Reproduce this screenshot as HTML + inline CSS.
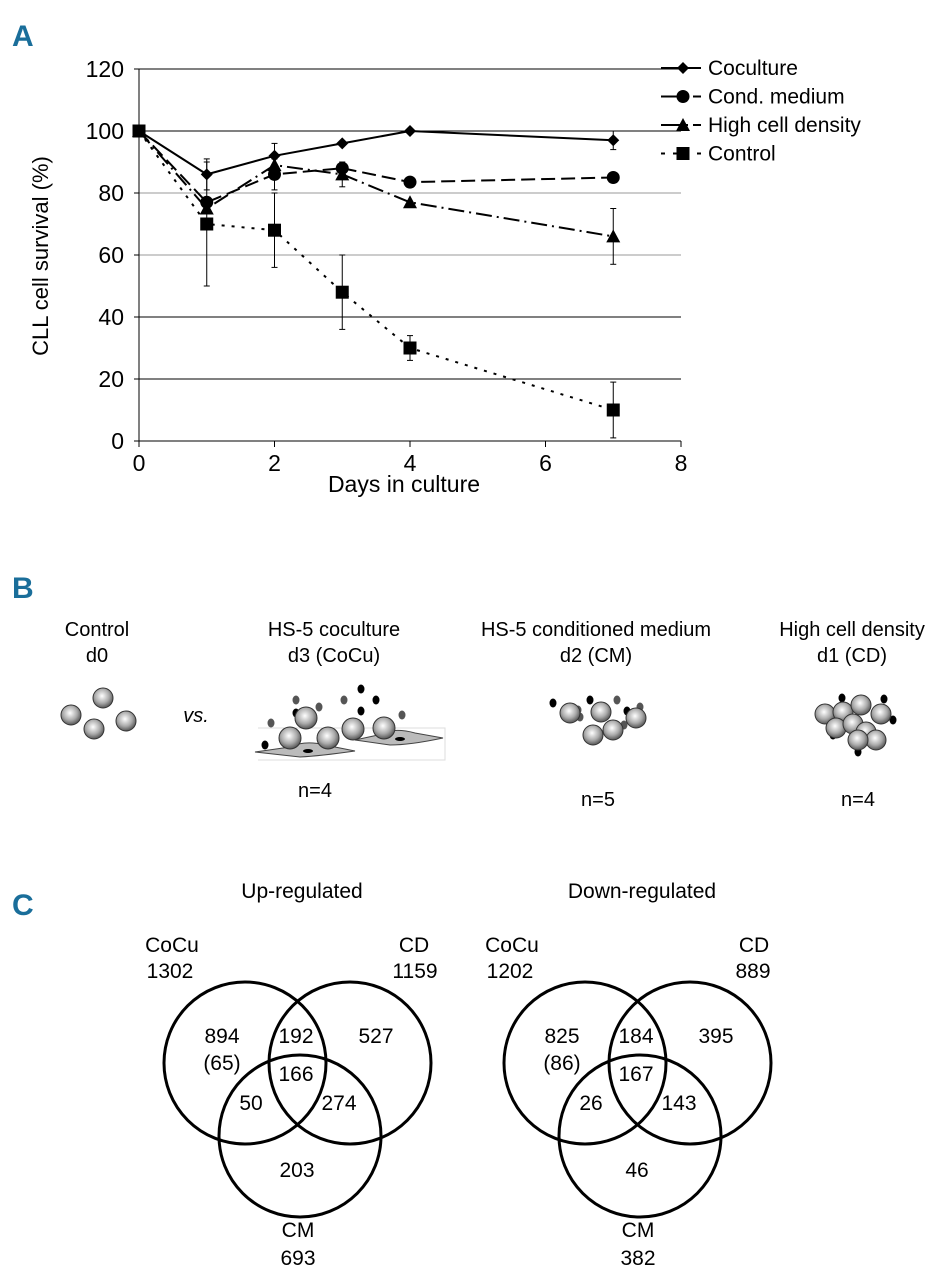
<!DOCTYPE html>
<html><head><meta charset="utf-8"><style>
body{margin:0;background:#fff;width:945px;height:1280px;overflow:hidden;font-family:"Liberation Sans Narrow","Liberation Sans",sans-serif}
svg text{font-family:"Liberation Sans Narrow","Liberation Sans",sans-serif}
</style></head><body>
<svg width="945" height="1280">
<text x="12" y="46" font-size="30" font-weight="bold" fill="#1a6e9a">A</text>
<text x="12" y="598" font-size="30" font-weight="bold" fill="#1a6e9a">B</text>
<text x="12" y="915" font-size="30" font-weight="bold" fill="#1a6e9a">C</text>
<g id="chart"></g>
<text x="404" y="492" font-size="23" text-anchor="middle">Days in culture</text>
<text transform="translate(48,256) rotate(-90)" font-size="22" text-anchor="middle">CLL cell survival (%)</text>

<!-- Panel B -->
<g font-size="20" text-anchor="middle">
<text x="97" y="636">Control</text><text x="97" y="662">d0</text>
<text x="334" y="636">HS-5 coculture</text><text x="334" y="662">d3 (CoCu)</text>
<text x="596" y="636">HS-5 conditioned medium</text><text x="596" y="662">d2 (CM)</text>
<text x="852" y="636">High cell density</text><text x="852" y="662">d1 (CD)</text>
<text x="196" y="722" font-style="italic">vs.</text>
<text x="315" y="797">n=4</text><text x="598" y="806">n=5</text><text x="858" y="806">n=4</text>
</g>
<defs><radialGradient id="cell" cx="0.45" cy="0.4" r="0.6"><stop offset="0" stop-color="#fff"/><stop offset="0.6" stop-color="#aaa"/><stop offset="1" stop-color="#555"/></radialGradient></defs>
<g id="cells">
<path d="M258 728 L445 728 L445 760 L258 760" fill="none" stroke="#ddd"/>
<path d="M255 752 L290 747 Q305 740 325 745 L355 751 Q320 756 300 757 Z" fill="#bbb" stroke="#444"/>
<ellipse cx="308" cy="751" rx="5" ry="2" fill="#000"/>
<path d="M355 740 L378 735 Q393 727 415 733 L443 738 Q410 745 390 745 Z" fill="#bbb" stroke="#444"/>
<ellipse cx="400" cy="739" rx="5" ry="2" fill="#000"/>
</g>

<!-- Panel C -->
<g fill="none" stroke="#000" stroke-width="3">
<circle cx="245" cy="1063" r="81"/>
<circle cx="350" cy="1063" r="81"/>
<circle cx="300" cy="1136" r="81"/>
<circle cx="585" cy="1063" r="81"/>
<circle cx="690" cy="1063" r="81"/>
<circle cx="640" cy="1136" r="81"/>
</g>
<g font-size="21" text-anchor="middle">
<text x="302" y="898">Up-regulated</text><text x="642" y="898">Down-regulated</text>
<text x="172" y="952">CoCu</text><text x="170" y="978">1302</text>
<text x="414" y="952">CD</text><text x="415" y="978">1159</text>
<text x="222" y="1043">894</text><text x="222" y="1070">(65)</text>
<text x="296" y="1043">192</text><text x="376" y="1043">527</text>
<text x="296" y="1081">166</text><text x="251" y="1110">50</text><text x="339" y="1110">274</text>
<text x="297" y="1177">203</text><text x="298" y="1237">CM</text><text x="298" y="1265">693</text>
<text x="512" y="952">CoCu</text><text x="510" y="978">1202</text>
<text x="754" y="952">CD</text><text x="753" y="978">889</text>
<text x="562" y="1043">825</text><text x="562" y="1070">(86)</text>
<text x="636" y="1043">184</text><text x="716" y="1043">395</text>
<text x="636" y="1081">167</text><text x="591" y="1110">26</text><text x="679" y="1110">143</text>
<text x="637" y="1177">46</text><text x="638" y="1237">CM</text><text x="638" y="1265">382</text>
</g>
</svg>
<script>
const days=[0,1,2,3,4,7];
const coculture=[100,86,92,96,100,97];
const condMedium=[100,77,86,88,83.5,85];
const highDensity=[100,75,89,86,77,66];
const control=[100,70,68,48,30,10];
const errCoculture=[0,5,4,0,0,3];
const errCond=[0,0,5,0,0,0];
const errHigh=[0,0,0,4,0,9];
const errControl=[0,20,12,12,4,9];
const yTicks=[0,20,40,60,80,100,120];
const xTicks=[0,2,4,6,8];
const NS='http://www.w3.org/2000/svg';
const g=document.getElementById('chart');
const X=v=>139+v*(542/8), Y=v=>441-v*(372/120);
function el(t,a){const e=document.createElementNS(NS,t);for(const k in a)e.setAttribute(k,a[k]);g.appendChild(e);return e;}
yTicks.forEach(t=>{
 if(t>0){const l=el('line',{x1:139,x2:681,y1:Y(t),y2:Y(t),stroke:(t==60||t==80)?'#999':'#000','stroke-width':1});
 
 }
 const tx=el('text',{x:124,y:Y(t)+8,'font-size':23,'text-anchor':'end'});tx.textContent=t;
 
 
 el('line',{x1:134,x2:139,y1:Y(t),y2:Y(t),stroke:'#000'});
});
xTicks.forEach(t=>{
 el('line',{x1:X(t),x2:X(t),y1:441,y2:447,stroke:'#000'});
 const tx=el('text',{x:X(t),y:471,'font-size':23,'text-anchor':'middle'});tx.textContent=t;
 
 
});
el('line',{x1:139,x2:139,y1:Y(120),y2:441,stroke:'#000'});
el('line',{x1:139,x2:681,y1:441,y2:441,stroke:'#000'});
const series=[
 {n:'coculture',v:coculture,e:errCoculture,d:'none',m:'diamond',label:'Coculture'},
 {n:'cond-medium',v:condMedium,e:errCond,d:'14 6',m:'circle',label:'Cond. medium'},
 {n:'high-density',v:highDensity,e:errHigh,d:'16 5 2 5',m:'triangle',label:'High cell density'},
 {n:'control',v:control,e:errControl,d:'3 7',m:'square',label:'Control'}];
function marker(m,x,y){
 if(m=='diamond')return el('polygon',{points:`${x},${y-6} ${x+6},${y} ${x},${y+6} ${x-6},${y}`,fill:'#000'});
 if(m=='circle')return el('circle',{cx:x,cy:y,r:6.5,fill:'#000'});
 if(m=='triangle')return el('polygon',{points:`${x},${y-7} ${x+7},${y+6} ${x-7},${y+6}`,fill:'#000'});
 return el('rect',{x:x-6.5,y:y-6.5,width:13,height:13,fill:'#000'});
}
series.forEach((s,si)=>{
 s.v.forEach((v,i)=>{if(s.e[i]){const x=X(days[i]);
  el('line',{x1:x,x2:x,y1:Y(v-s.e[i]),y2:Y(v+s.e[i]),stroke:'#000'});
  el('line',{x1:x-3,x2:x+3,y1:Y(v-s.e[i]),y2:Y(v-s.e[i]),stroke:'#000'});
  el('line',{x1:x-3,x2:x+3,y1:Y(v+s.e[i]),y2:Y(v+s.e[i]),stroke:'#000'});}});
 const p=el('polyline',{points:s.v.map((v,i)=>X(days[i])+','+Y(v)).join(' '),fill:'none',stroke:'#000','stroke-width':2,'stroke-dasharray':s.d});
 
 
 s.v.forEach((v,i)=>{const mk=marker(s.m,X(days[i]),Y(v));
  
  });
 const ly=68+si*28.5;
 el('line',{x1:661,x2:701,y1:ly,y2:ly,stroke:'#000','stroke-width':2,'stroke-dasharray':si==0?'none':(si==3?'4 8':'20 5 2 5')});
 marker(s.m,683,ly);
 const t=el('text',{x:708,y:ly+7,'font-size':21});t.textContent=s.label;
 
 
});
// cells
const cg=document.getElementById('cells');
function cell(x,y,r){const c=document.createElementNS(NS,'circle');c.setAttribute('cx',x);c.setAttribute('cy',y);c.setAttribute('r',r);c.setAttribute('fill','url(#cell)');c.setAttribute('stroke','#333');cg.appendChild(c);}
function dot(x,y,c){const d=document.createElementNS(NS,'ellipse');d.setAttribute('cx',x);d.setAttribute('cy',y);d.setAttribute('rx',3.5);d.setAttribute('ry',4.5);d.setAttribute('fill',c);cg.appendChild(d);}
[[71,715],[103,698],[94,729],[126,721]].forEach(p=>cell(p[0],p[1],10));
[[265,745,'#000'],[271,723,'#555'],[296,700,'#555'],[296,713,'#000'],[319,707,'#555'],[344,700,'#555'],[361,689,'#000'],[376,700,'#000'],[361,711,'#000'],[402,715,'#555']].forEach(d=>dot(d[0],d[1],d[2]));
[[290,738],[306,718],[328,738],[353,729],[384,728]].forEach(p=>cell(p[0],p[1],11));
[[553,703,'#000'],[578,710,'#555'],[590,700,'#000'],[617,700,'#555'],[627,711,'#000'],[640,707,'#555'],[580,717,'#555'],[624,725,'#555']].forEach(d=>dot(d[0],d[1],d[2]));
[[570,713],[601,712],[593,735],[613,730],[636,718]].forEach(p=>cell(p[0],p[1],10));
[[842,698,'#000'],[884,699,'#000'],[823,710,'#000'],[893,720,'#000'],[833,735,'#000'],[858,752,'#000']].forEach(d=>dot(d[0],d[1],d[2]));
[[825,714],[843,712],[861,705],[881,714],[836,728],[853,724],[866,732],[876,740],[858,740]].forEach(p=>cell(p[0],p[1],10));
</script>
</body></html>
